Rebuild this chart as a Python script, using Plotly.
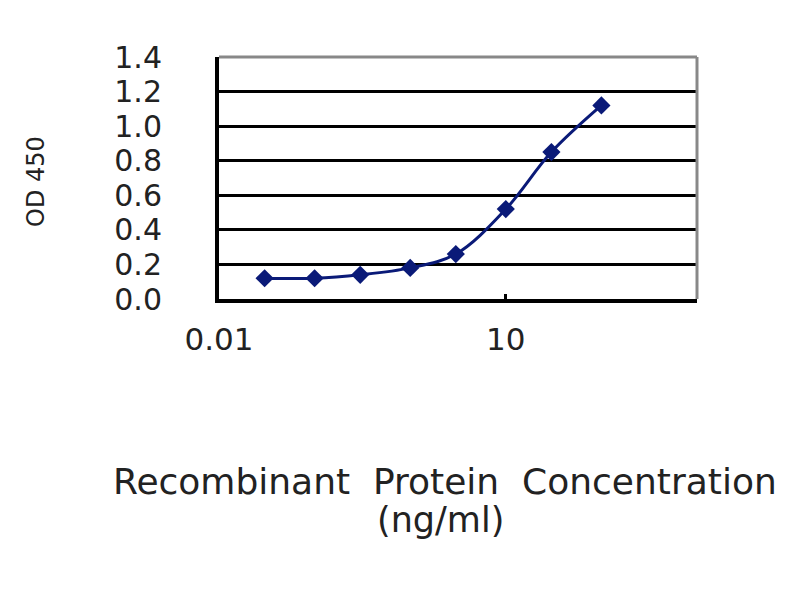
import plotly.graph_objects as go

concentration = [0.03, 0.1, 0.3, 1, 3, 10, 30, 100]
od450 = [0.12, 0.12, 0.14, 0.18, 0.26, 0.52, 0.85, 1.12]
y_ticks = [0.0, 0.2, 0.4, 0.6, 0.8, 1.0, 1.2, 1.4]
y_tick_labels = ["0.0", "0.2", "0.4", "0.6", "0.8", "1.0", "1.2", "1.4"]
x_ticks = [0.01, 10]
x_tick_labels = ["0.01", "10"]

navy = "#0a1a78"
font_family = "DejaVu Sans, Arial, sans-serif"
text_color = "#222222"

W, H = 800, 600
OFF = 8  # page body margin
L, T = 211, 49
PW, PH = 478, 242
R = W - L - PW
B = H - T - PH


def px_x(px):
    return (px - OFF - L) / PW


def px_y(py):
    return (T + PH - (py - OFF)) / PH


fig = go.Figure()
fig.add_trace(go.Scatter(
    x=concentration, y=od450, mode="lines+markers",
    line=dict(color=navy, width=3, shape="spline"),
    marker=dict(symbol="diamond", size=14, color=navy),
    showlegend=False,
))

fig.update_layout(
    width=W, height=H,
    margin=dict(l=L, r=R, t=T, b=B),
    paper_bgcolor="white", plot_bgcolor="white",
    font=dict(family=font_family, color=text_color),
    xaxis=dict(
        type="log", range=[-2, 3],
        tickvals=x_ticks, ticktext=x_tick_labels,
        showgrid=False, zeroline=False,
        showline=True, linecolor="black", linewidth=4,
        ticks="inside", ticklen=5, tickwidth=3, tickcolor="black",
        ticklabelstandoff=10,
        tickfont=dict(size=31, family=font_family, color=text_color),
    ),
    yaxis=dict(
        range=[0, 1.4],
        tickvals=y_ticks, ticktext=y_tick_labels,
        showgrid=True, gridcolor="black", gridwidth=3,
        zeroline=False,
        showline=True, linecolor="black", linewidth=4,
        ticks="", ticklabelstandoff=47,
        tickfont=dict(size=30, family=font_family, color=text_color),
    ),
    shapes=[
        dict(type="line", xref="paper", yref="paper", x0=0, x1=1, y0=1, y1=1,
             line=dict(color="#888", width=3), layer="above"),
        dict(type="line", xref="paper", yref="paper", x0=1, x1=1, y0=0, y1=1,
             line=dict(color="#888", width=3), layer="above"),
    ],
    annotations=[
        dict(text="OD 450", xref="paper", yref="paper", x=px_x(36), y=px_y(182),
             textangle=-90, showarrow=False, xanchor="center", yanchor="middle",
             font=dict(size=24, family=font_family, color=text_color)),
        dict(text="Recombinant  Protein  Concentration", xref="paper", yref="paper",
             x=px_x(445), y=px_y(481), showarrow=False, xanchor="center", yanchor="middle",
             font=dict(size=36, family=font_family, color=text_color)),
        dict(text="(ng/ml)", xref="paper", yref="paper",
             x=px_x(440), y=px_y(520), showarrow=False, xanchor="center", yanchor="middle",
             font=dict(size=35, family=font_family, color=text_color)),
    ],
)

fig.write_html("out.html")
